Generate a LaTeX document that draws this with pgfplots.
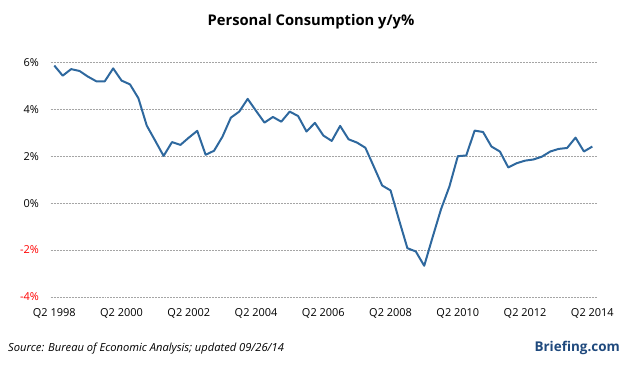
\documentclass[border=0pt]{standalone}
\usepackage{pgfplots}
\pgfplotsset{compat=1.18}
\usepackage{fontspec}
\setmainfont{Open Sans}
\definecolor{linecol}{RGB}{46,104,158}
\definecolor{gridcol}{RGB}{165,165,165}
\definecolor{brief}{RGB}{31,73,125}
\begin{document}
\begin{tikzpicture}[x=1bp,y=1bp]
\path[use as bounding box] (0,0) rectangle (626,367);
\begin{axis}[
  at={(50.7bp,70bp)}, anchor=south west,
  scale only axis, width=546bp, height=234.7bp,
  xmin=-0.43, xmax=64.52, ymin=-4, ymax=6,
  axis line style={draw=none},
  tick style={draw=none},
  ymajorgrids,
  major grid style={gridcol, line width=0.6pt, dash pattern=on 2pt off 1pt},
  ytick={-4,-2,0,2,4,6},
  yticklabels={{\color{red}-4\%},{\color{red}-2\%},0\%,2\%,4\%,6\%},
  xtick={0,8,16,24,32,40,48,56,64},
  xticklabels={Q2 1998,Q2 2000,Q2 2002,Q2 2004,Q2 2006,Q2 2008,Q2 2010,Q2 2012,Q2 2014},
  ticklabel style={font=\fontsize{11}{13}\selectfont, inner sep=0pt},
  yticklabel style={anchor=east, xshift=-11.5bp},
  xticklabel style={anchor=north, yshift=-11bp},
  clip=false,
]
\addplot[linecol, line width=2pt, line join=round] coordinates {
(0,5.86)(1,5.43)(2,5.71)(3,5.63)(4,5.39)(5,5.19)(6,5.19)(7,5.74)(8,5.22)(9,5.06)
(10,4.47)(11,3.30)(12,2.66)(13,2.01)(14,2.60)(15,2.48)(16,2.79)(17,3.08)(18,2.06)(19,2.23)
(20,2.83)(21,3.64)(22,3.90)(23,4.44)(24,3.93)(25,3.43)(26,3.67)(27,3.47)(28,3.90)(29,3.71)
(30,3.05)(31,3.42)(32,2.88)(33,2.65)(34,3.29)(35,2.72)(36,2.58)(37,2.36)(38,1.56)(39,0.75)
(40,0.54)(41,-0.71)(42,-1.92)(43,-2.06)(44,-2.67)(45,-1.45)(46,-0.26)(47,0.71)(48,2.00)(49,2.03)
(50,3.09)(51,3.03)(52,2.41)(53,2.20)(54,1.52)(55,1.70)(56,1.81)(57,1.86)(58,1.98)(59,2.20)
(60,2.31)(61,2.35)(62,2.79)(63,2.20)(64,2.41)
};
\end{axis}
\node[font=\bfseries\fontsize{14.8}{17}\selectfont] at (311,345) {Personal Consumption y/y\%};
\node[anchor=west, inner sep=0pt, font=\itshape\fontsize{11.2}{13}\selectfont] at (8,18) {Source: Bureau of Economic Analysis; updated 09/26/14};
\node[anchor=east, inner sep=0pt, text=brief, font=\bfseries\fontsize{13.5}{16}\selectfont] at (620,19) {Briefing.com};
\end{tikzpicture}
\end{document}
